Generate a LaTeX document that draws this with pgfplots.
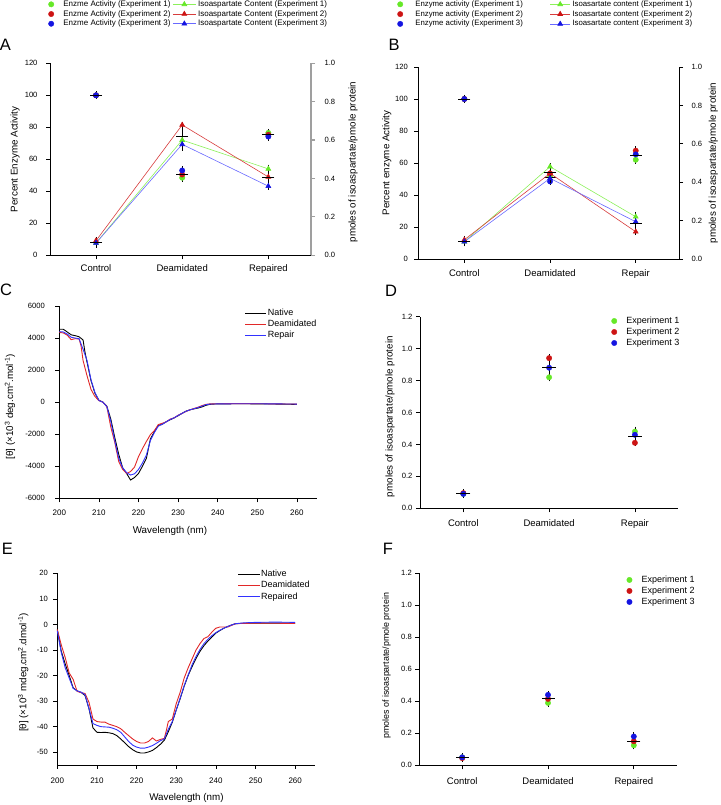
\documentclass[border=0pt]{standalone}
\usepackage{fontspec}
\setmainfont{Liberation Sans}
\usepackage{pgfplots}
\usepackage{pgfplotstable}
\pgfplotsset{compat=1.18}

\definecolor{egreen}{RGB}{102,232,40}
\definecolor{ered}{RGB}{205,20,20}
\definecolor{eblue}{RGB}{20,20,225}
\definecolor{lgreen}{RGB}{140,240,90}
\definecolor{lred}{RGB}{215,60,60}
\definecolor{lblue}{RGB}{105,105,255}
\definecolor{cdred}{RGB}{225,40,40}
\definecolor{cdblue}{RGB}{50,50,255}

\pgfplotstableread{
x y
200 4550
201 4550
202 4380
203 4200
204 4150
205 4080
206 3880
206.5 3100
207 2500
208 1350
209 560
210 120
211 0
212 -250
213 -1050
214 -2200
215 -3250
216 -4100
217 -4450
218 -4860
219 -4700
220 -4450
221 -4000
222 -3500
223 -2300
224 -1850
225 -1450
226 -1380
227 -1220
228 -1100
229 -980
230 -850
231 -700
232 -560
233 -480
234 -420
235 -370
236 -300
237 -200
238 -140
239 -120
240 -110
245 -100
250 -105
255 -120
260 -140
}\cdCnat

\pgfplotstableread{
x y
200 4350
201 4320
202 4180
203 3900
204 3960
205 3940
205.5 3500
206 2600
207 1650
208 800
209 350
210 100
211 0
212 -280
213 -1550
214 -2500
215 -3700
216 -4200
217 -4450
218 -4330
219 -4050
220 -3400
221 -2900
222 -2450
223 -2030
224 -1780
225 -1400
226 -1320
227 -1230
228 -1060
229 -980
230 -820
231 -700
232 -580
233 -480
234 -400
235 -320
236 -220
237 -140
238 -110
240 -100
245 -90
250 -95
255 -110
260 -120
}\cdCdea

\pgfplotstableread{
x y
200 4400
201 4380
202 4250
203 4050
204 4000
205 3960
206 3300
207 2600
208 1400
209 600
210 100
211 0
212 -280
213 -1200
214 -2400
215 -3500
216 -4100
217 -4400
218 -4550
219 -4470
220 -4200
221 -3800
222 -3300
223 -2400
224 -1900
225 -1500
226 -1380
227 -1230
228 -1080
229 -980
230 -830
231 -700
232 -570
233 -480
234 -410
235 -340
236 -250
237 -160
238 -120
240 -110
245 -100
250 -100
255 -110
260 -120
}\cdCrep

\pgfplotstableread{
x y
200 -2
201 -10.5
202 -15.5
203 -20
204 -24.8
205 -26
206 -26.6
207 -27.8
208 -33
209 -40.5
210 -42.2
211 -42.3
212 -42.2
213 -42.4
214 -42.7
215 -43.5
216 -44.8
217 -46.3
218 -47.8
219 -49
220 -49.9
221 -50.3
222 -50.3
223 -49.9
224 -49.3
225 -48.2
226 -46.9
227 -45.3
228 -42
229 -38.3
230 -33.5
231 -29
232 -24.2
233 -20
234 -16.5
235 -13.3
236 -10.5
237 -8.3
238 -6.5
239 -4.9
240 -3.4
241 -2.4
242 -1.5
243 -0.8
244 -0.2
245 0.3
248 0.5
255 0.5
260 0.5
}\cdEnat

\pgfplotstableread{
x y
200 -2
201 -8
202 -13
203 -19
204 -21.5
205 -26.2
206 -26.7
207 -27
208 -30.5
209 -37
210 -38
211 -38.2
212 -38.2
213 -39
214 -39.5
215 -40
216 -40.8
217 -42.2
218 -43.5
219 -44.8
220 -45.8
221 -46.4
222 -46.4
223 -45.8
224 -44.4
225 -45.6
226 -45
227 -44.6
227.5 -41.5
228 -38
229 -37
230 -31
231 -26.5
232 -21
233 -17
234 -13.5
235 -10
236 -7.5
237 -5.5
238 -4.8
239 -3
240 -1.5
241 -1
243 -1
245 0.3
250 0.5
260 0.4
}\cdEdea

\pgfplotstableread{
x y
200 -2.5
201 -11
202 -17
203 -21
204 -25
205 -26
206 -26.5
207 -27.5
208 -33
209 -38.8
210 -39.5
211 -40
212 -40.1
213 -40.2
214 -40.6
215 -41.2
216 -42.2
217 -44
218 -45.8
219 -47.2
220 -48
221 -48.4
222 -48.4
223 -48
224 -47.4
225 -46.5
226 -45.5
227 -44.8
228 -41
229 -38
230 -33.5
231 -28.8
232 -24
233 -19.8
234 -15.8
235 -12.5
236 -9.8
237 -7.5
238 -5.8
239 -4.4
240 -3.2
241 -2.3
242 -1.5
243 -0.8
244 -0.2
245 0.3
247 0.6
250 0.8
255 0.9
260 0.8
}\cdErep

\pgfplotsset{
  panel/.style={
    scale only axis, anchor=south west,
    axis x line*=bottom, axis y line*=left,
    axis line style={-, black, line width=0.7pt},
    tick style={black, line width=0.7pt},
    tick align=outside, major tick length=4pt,
    yticklabel style={font=\fontsize{7.6}{9}\selectfont},
    xticklabel style={font=\fontsize{9.5}{11}\selectfont},
    label style={font=\fontsize{9.8}{11}\selectfont},
    /pgf/number format/assume math mode=true,
    /pgf/number format/1000 sep={},
    scaled ticks=false, clip=false,
    legend cell align=left,
  },
  dot/.style={only marks, mark=*, mark size=2.7pt, forget plot},
  dotleg/.style={legend image code/.code={\path (-3pt,0pt) (#1,0pt); \draw[##1] plot[only marks] coordinates {(0pt,0pt)};}},
  lineleg/.style={legend image code/.code={\draw[mark repeat=2,mark phase=2,##1] plot coordinates {(0pt,0pt)(#1/2,0pt)(#1,0pt)};}},
  mean/.style={black, only marks, mark=-, mark size=#1, line width=0.8pt, forget plot,
     error bars/.cd, y dir=both, y explicit, error bar style={black, line width=0.8pt},
     error mark options={black, mark size=4pt, line width=0.8pt}},
  oned/.style={yticklabel style={/pgf/number format/fixed, /pgf/number format/fixed zerofill, /pgf/number format/precision=1}},
}

\begin{document}
\begin{tikzpicture}[x=1pt,y=1pt]
\useasboundingbox (0,0) rectangle (720,805);

\node[font=\fontsize{16.5}{18}\selectfont, inner sep=0pt] at (5.5,760) {A};
\node[font=\fontsize{16.5}{18}\selectfont, inner sep=0pt] at (394,760) {B};
\node[font=\fontsize{16.5}{18}\selectfont, inner sep=0pt] at (6,515) {C};
\node[font=\fontsize{16.5}{18}\selectfont, inner sep=0pt] at (391,514) {D};
\node[font=\fontsize{16.5}{18}\selectfont, inner sep=0pt] at (7.5,256) {E};
\node[font=\fontsize{16.5}{18}\selectfont, inner sep=0pt] at (388,256) {F};

% ---------------- Panel A ----------------
\begin{axis}[panel, at={(50pt,549.7pt)}, width=261pt, height=192pt,
  xmin=-0.534, xmax=2.495, ymin=0, ymax=120, ytick={0,20,...,120},
  yticklabel style={xshift=-5pt},
  xtick={0,1,2}, xticklabels={Control,Deamidated,Repaired},
  xticklabel style={yshift=-2pt},
  ylabel={Percent Enzyme Activity},
  ylabel style={at={(axis description cs:-0.134,0.5)}, anchor=center},
  legend columns=2,
  legend style={draw=none, fill=none, inner sep=0pt, outer sep=0pt,
    at={(axis description cs:-0.0077,1.3323)}, anchor=north west,
    font=\fontsize{8}{9}\selectfont, row sep=0pt, column sep=1pt,
    nodes={inner sep=1pt, text height=5.9pt, text depth=1.8pt},
    /tikz/every even column/.append style={column sep=1pt}}]
\addlegendimage{egreen, mark=*, mark size=2.7pt, dotleg=10pt}
\addlegendentry{Enzme Activity (Experiment 1)}
\addlegendimage{lgreen, line width=0.6pt, mark=triangle*, mark size=2.8pt, mark options={egreen, fill=egreen}, lineleg=23pt}
\addlegendentry{Isoaspartate Content (Experiment 1)}
\addlegendimage{ered, mark=*, mark size=2.7pt, dotleg=10pt}
\addlegendentry{Enzme Activity (Experiment 2)}
\addlegendimage{lred, line width=0.6pt, mark=triangle*, mark size=2.8pt, mark options={ered, fill=ered}, lineleg=23pt}
\addlegendentry{Isoaspartate Content (Experiment 2)}
\addlegendimage{eblue, mark=*, mark size=2.7pt, dotleg=10pt}
\addlegendentry{Enzme Activity (Experiment 3)}
\addlegendimage{lblue, line width=0.6pt, mark=triangle*, mark size=2.8pt, mark options={eblue, fill=eblue}, lineleg=23pt}
\addlegendentry{Isoaspartate Content (Experiment 3)}
\addplot[dot, egreen] coordinates {(0,100) (1,48.5) (2,76.5)};
\addplot[dot, ered] coordinates {(0,100) (1,50.5) (2,75.3)};
\addplot[dot, eblue] coordinates {(0,100) (1,53) (2,74.2)};
\addplot[mean=6pt] coordinates {(0,100) +- (0,0) (1,50.7) +- (0,2.3) (2,75.3) +- (0,1.2)};
\end{axis}
\begin{axis}[panel, at={(50pt,549.7pt)}, width=261pt, height=192pt,
  xmin=-0.534, xmax=2.495, ymin=0, ymax=1, ytick={0,0.2,...,1.0}, oned,
  yticklabel style={xshift=6pt},
  axis x line=none, axis y line*=right,
  y axis line style={-, gray!75, line width=2.2pt},
  ytick style={gray!75, line width=1.2pt},
  ylabel={pmoles of isoaspartate/pmole protein},
  ylabel style={at={(axis description cs:1.161,0.486)}, anchor=center}]
\addplot[lgreen, line width=0.6pt, mark=triangle*, mark size=2.8pt, mark options={egreen, fill=egreen}] coordinates {(0,0.064) (1,0.60) (2,0.45)};
\addplot[lred, line width=0.6pt, mark=triangle*, mark size=2.8pt, mark options={ered, fill=ered}] coordinates {(0,0.076) (1,0.679) (2,0.408)};
\addplot[lblue, line width=0.6pt, mark=triangle*, mark size=2.8pt, mark options={eblue, fill=eblue}] coordinates {(0,0.064) (1,0.578) (2,0.36)};
\addplot[mean=6pt] coordinates {(0,0.068) +- (0,0.007) (1,0.619) +- (0,0.053) (2,0.406) +- (0,0.045)};
\end{axis}

% ---------------- Panel B ----------------
\begin{axis}[panel, at={(418.3pt,546pt)}, width=260.7pt, height=192pt,
  xmin=-0.537, xmax=2.505, ymin=0, ymax=120, ytick={0,20,...,120},
  yticklabel style={xshift=-3pt},
  xtick={0,1,2}, xticklabels={Control,Deamidated,Repair},
  xticklabel style={yshift=-3pt},
  ylabel={Percent enzyme Activity},
  ylabel style={at={(axis description cs:-0.121,0.5)}, anchor=center},
  legend columns=2,
  legend style={draw=none, fill=none, inner sep=0pt, outer sep=0pt,
    at={(axis description cs:-0.0817,1.352)}, anchor=north west,
    font=\fontsize{7.8}{9}\selectfont, row sep=0pt, column sep=1pt,
    nodes={inner sep=1pt, text height=5.9pt, text depth=1.9pt},
    /tikz/every even column/.append style={column sep=26pt}}]
\addlegendimage{egreen, mark=*, mark size=2.7pt, dotleg=13pt}
\addlegendentry{Enzyme activity (Experiment 1)}
\addlegendimage{lgreen, line width=0.6pt, mark=triangle*, mark size=2.8pt, mark options={egreen, fill=egreen}, lineleg=20pt}
\addlegendentry{Isoasartate content (Experiment 1)}
\addlegendimage{ered, mark=*, mark size=2.7pt, dotleg=13pt}
\addlegendentry{Enzyme activity (Experiment 2)}
\addlegendimage{lred, line width=0.6pt, mark=triangle*, mark size=2.8pt, mark options={ered, fill=ered}, lineleg=20pt}
\addlegendentry{Isoasartate content (Experiment 2)}
\addlegendimage{eblue, mark=*, mark size=2.7pt, dotleg=13pt}
\addlegendentry{Enzyme activity (Experiment 3)}
\addlegendimage{lblue, line width=0.6pt, mark=triangle*, mark size=2.8pt, mark options={eblue, fill=eblue}, lineleg=20pt}
\addlegendentry{Isoasartate content (Experiment 3)}
\addplot[dot, egreen] coordinates {(0,100) (1,52) (2,62)};
\addplot[dot, ered] coordinates {(0,100) (1,53.5) (2,67.7)};
\addplot[dot, eblue] coordinates {(0,100) (1,48.5) (2,65.4)};
\addplot[mean=6pt] coordinates {(0,100) +- (0,0) (1,51.3) +- (0,2.6) (2,65) +- (0,2.9)};
\end{axis}
\begin{axis}[panel, at={(418.3pt,546pt)}, width=260.7pt, height=192pt,
  xmin=-0.537, xmax=2.505, ymin=0, ymax=1, ytick={0,0.2,...,1.0}, oned,
  yticklabel style={xshift=5pt},
  axis x line=none, axis y line*=right,
  ylabel={pmoles of isoaspartate/pmole protein},
  ylabel style={at={(axis description cs:1.132,0.5)}, anchor=center}]
\addplot[lgreen, line width=0.6pt, mark=triangle*, mark size=2.8pt, mark options={egreen, fill=egreen}] coordinates {(0,0.09) (1,0.481) (2,0.22)};
\addplot[lred, line width=0.6pt, mark=triangle*, mark size=2.8pt, mark options={ered, fill=ered}] coordinates {(0,0.10) (1,0.446) (2,0.142)};
\addplot[lblue, line width=0.6pt, mark=triangle*, mark size=2.8pt, mark options={eblue, fill=eblue}] coordinates {(0,0.09) (1,0.42) (2,0.194)};
\addplot[mean=6pt] coordinates {(0,0.093) +- (0,0.006) (1,0.449) +- (0,0.03) (2,0.185) +- (0,0.04)};
\end{axis}

% ---------------- Panel C ----------------
\begin{axis}[panel, at={(59.3pt,306.7pt)}, width=257.4pt, height=192.3pt,
  xmin=200, xmax=265, ymin=-6000, ymax=6000,
  xtick={200,210,...,260}, ytick={-6000,-4000,...,6000},
  yticklabel style={xshift=-7pt},
  xticklabel style={font=\fontsize{8}{9}\selectfont, yshift=-4pt},
  xlabel={Wavelength (nm)},
  xlabel style={at={(axis description cs:0.43,-0.17)}, anchor=center},
  ylabel={[θ] (×10\textsuperscript{3} deg.cm\textsuperscript{2}.mol\textsuperscript{-1})},
  ylabel style={at={(axis description cs:-0.1915,0.476)}, anchor=center},
  legend style={draw=none, fill=none, inner sep=0pt, outer sep=0pt,
    at={(axis description cs:0.7214,0.9886)}, anchor=north west,
    font=\fontsize{9}{10}\selectfont, row sep=0pt, column sep=0pt,
    nodes={inner sep=1pt, text height=6.8pt, text depth=2.2pt}}]
\addplot[black, line width=0.9pt, forget plot] table {\cdCnat};
\addplot[cdred, line width=0.9pt, forget plot] table {\cdCdea};
\addplot[cdblue, line width=0.9pt, forget plot] table {\cdCrep};
\addlegendimage{black, line width=0.9pt, lineleg=21pt}
\addlegendentry{Native}
\addlegendimage{cdred, line width=0.9pt, lineleg=21pt}
\addlegendentry{Deamidated}
\addlegendimage{cdblue, line width=0.9pt, lineleg=21pt}
\addlegendentry{Repair}
\end{axis}

% ---------------- Panel D ----------------
\begin{axis}[panel, at={(420pt,296.7pt)}, width=257.8pt, height=191.7pt,
  xmin=-0.505, xmax=2.5, ymin=0, ymax=1.2, ytick={0,0.2,...,1.2}, oned,
  xtick={0,1,2}, xticklabels={Control,Deamidated,Repair},
  xticklabel style={yshift=-4pt},
  ylabel={pmoles of isoaspartate/pmole protein},
  ylabel style={at={(axis description cs:-0.116,0.478)}, anchor=center},
  legend style={draw=none, fill=none, inner sep=0pt, outer sep=0pt,
    at={(axis description cs:0.741,1.0057)}, anchor=north west,
    font=\fontsize{9}{10}\selectfont, row sep=0pt, column sep=0pt,
    nodes={inner sep=1pt, text height=6.8pt, text depth=2.2pt}}]
\addlegendimage{egreen, mark=*, mark size=2.7pt, dotleg=11pt}
\addlegendentry{Experiment 1}
\addlegendimage{ered, mark=*, mark size=2.7pt, dotleg=11pt}
\addlegendentry{Experiment 2}
\addlegendimage{eblue, mark=*, mark size=2.7pt, dotleg=11pt}
\addlegendentry{Experiment 3}
\addplot[dot, egreen] coordinates {(0,0.09) (1,0.82) (2,0.48)};
\addplot[dot, ered] coordinates {(0,0.095) (1,0.94) (2,0.41)};
\addplot[dot, eblue] coordinates {(0,0.09) (1,0.88) (2,0.46)};
\addplot[mean=7pt] coordinates {(0,0.092) +- (0,0.003) (1,0.88) +- (0,0.06) (2,0.45) +- (0,0.036)};
\end{axis}

% ---------------- Panel E ----------------
\begin{axis}[panel, at={(57.3pt,40pt)}, width=257.7pt, height=191.7pt,
  xmin=200, xmax=265, ymin=-55, ymax=20,
  xtick={200,210,...,260}, ytick={-50,-40,...,20},
  yticklabel style={xshift=-2pt},
  xticklabel style={font=\fontsize{8}{9}\selectfont, yshift=-5pt},
  xlabel={Wavelength (nm)},
  xlabel style={at={(axis description cs:0.501,-0.174)}, anchor=center},
  ylabel={[θ] (×10\textsuperscript{3} mdeg.cm\textsuperscript{2}.dmol\textsuperscript{-1})},
  ylabel style={at={(axis description cs:-0.132,0.4825)}, anchor=center},
  legend style={draw=none, fill=none, inner sep=0pt, outer sep=0pt,
    at={(axis description cs:0.700,1.024)}, anchor=north west,
    font=\fontsize{9}{10}\selectfont, row sep=0pt, column sep=0pt,
    nodes={inner sep=1pt, text height=7pt, text depth=2.2pt}}]
\addplot[black, line width=0.9pt, forget plot] table {\cdEnat};
\addplot[cdred, line width=0.9pt, forget plot] table {\cdEdea};
\addplot[cdblue, line width=0.9pt, forget plot] table {\cdErep};
\addlegendimage{black, line width=0.9pt, lineleg=21.6pt}
\addlegendentry{Native}
\addlegendimage{cdred, line width=0.9pt, lineleg=21.6pt}
\addlegendentry{Deamidated}
\addlegendimage{cdblue, line width=0.9pt, lineleg=21.6pt}
\addlegendentry{Repaired}
\end{axis}

% ---------------- Panel F ----------------
\begin{axis}[panel, at={(419.3pt,39.7pt)}, width=257.4pt, height=192pt,
  xmin=-0.5, xmax=2.5, ymin=0, ymax=1.2, ytick={0,0.2,...,1.2}, oned,
  xtick={0,1,2}, xticklabels={Control,Deamidated,Repaired},
  xticklabel style={yshift=-5pt},
  label style={font=\fontsize{8.9}{10}\selectfont},
  ylabel={pmoles of isoaspartate/pmole protein},
  ylabel style={at={(axis description cs:-0.127,0.518)}, anchor=center},
  legend style={draw=none, fill=none, inner sep=0pt, outer sep=0pt,
    at={(axis description cs:0.804,0.994)}, anchor=north west,
    font=\fontsize{9}{10}\selectfont, row sep=0pt, column sep=0pt,
    nodes={inner sep=1pt, text height=6.8pt, text depth=2.2pt}}]
\addlegendimage{egreen, mark=*, mark size=2.7pt, dotleg=11pt}
\addlegendentry{Experiment 1}
\addlegendimage{ered, mark=*, mark size=2.7pt, dotleg=11pt}
\addlegendentry{Experiment 2}
\addlegendimage{eblue, mark=*, mark size=2.7pt, dotleg=11pt}
\addlegendentry{Experiment 3}
\addplot[dot, egreen] coordinates {(0,0.05) (1,0.39) (2,0.125)};
\addplot[dot, ered] coordinates {(0,0.045) (1,0.415) (2,0.15)};
\addplot[dot, eblue] coordinates {(0,0.05) (1,0.44) (2,0.18)};
\addplot[mean=6.5pt] coordinates {(0,0.048) +- (0,0.003) (1,0.415) +- (0,0.025) (2,0.152) +- (0,0.028)};
\end{axis}
\end{tikzpicture}
\end{document}
